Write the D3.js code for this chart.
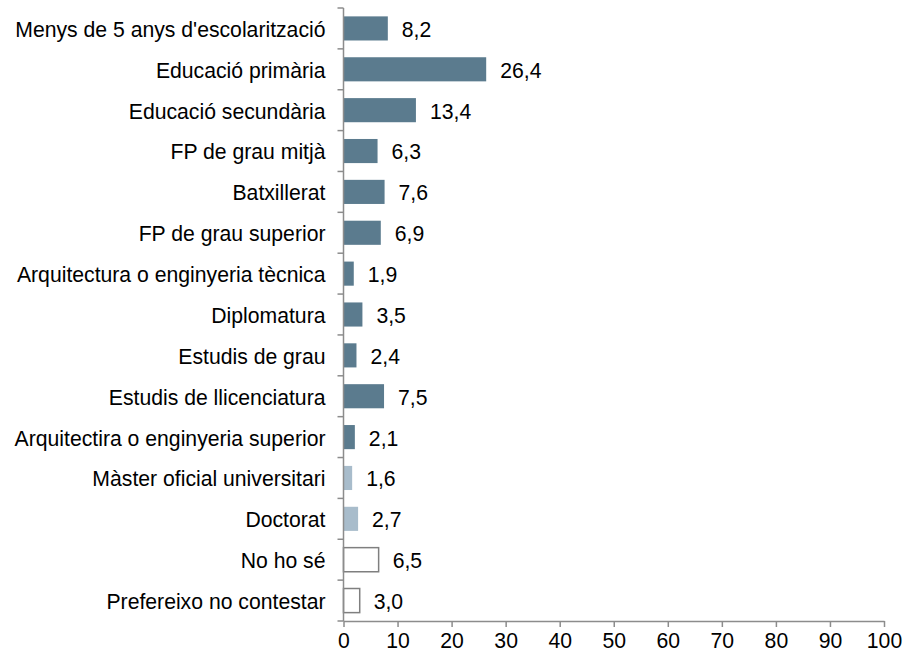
<!DOCTYPE html>
<html><head><meta charset="utf-8">
<script src="https://cdn.jsdelivr.net/npm/d3@7"></script>
<style>body{margin:0;background:#fff}svg{display:block}text{font-family:"Liberation Sans",Arial,sans-serif}</style>
</head><body><svg id="c" width="905" height="657"></svg>
<script>
const categories = ["Menys de 5 anys d'escolarització","Educació primària","Educació secundària","FP de grau mitjà","Batxillerat","FP de grau superior","Arquitectura o enginyeria tècnica","Diplomatura","Estudis de grau","Estudis de llicenciatura","Arquitectira o enginyeria superior","Màster oficial universitari","Doctorat","No ho sé","Prefereixo no contestar"];
const values = [8.2,26.4,13.4,6.3,7.6,6.9,1.9,3.5,2.4,7.5,2.1,1.6,2.7,6.5,3.0];
const groups = ["a","a","a","a","a","a","a","a","a","a","a","b","b","c","c"];
const xTicks = [0,10,20,30,40,50,60,70,80,90,100];

const svg = d3.select("#c");
const m = {left:343.5, right:21, top:8, bottom:36};
const W = 905, H = 657;
const FS = 21.2;
const x = d3.scaleLinear().domain([0,100]).range([m.left, W-m.right]);
const y = d3.scaleBand().domain(categories).range([m.top, H-m.bottom]).paddingInner(0.41).paddingOuter(0.205);
const fill = {a:"#5b7b8e", b:"#a8bccb", c:"#ffffff"};
const stroke = {a:"none", b:"none", c:"#7f7f7f"};
const axisColor = "#8c8c8c";

// bars
svg.selectAll("rect.bar").data(values).join("rect")
  .attr("x", x(0))
  .attr("y", (d,i)=>y(categories[i]))
  .attr("width", d=>x(d)-x(0))
  .attr("height", y.bandwidth())
  .attr("fill", (d,i)=>fill[groups[i]])
  .attr("stroke", (d,i)=>stroke[groups[i]])
  .attr("stroke-width", 1.5);

// value labels
svg.selectAll("text.val").data(values).join("text")
  .attr("x", d=>x(d)+14)
  .attr("y", (d,i)=>y(categories[i])+y.bandwidth()/2+1)
  .attr("dy","0.35em")
  .attr("font-size", FS)
  .attr("fill", "#000")
  .text(d=>d.toFixed(1).replace(".", ","));

// y axis
const yLine = svg.append("g");
yLine.append("line").attr("x1",x(0)).attr("x2",x(0)).attr("y1",m.top).attr("y2",H-m.bottom)
  .attr("stroke",axisColor).attr("stroke-width",1.5);
const bounds = d3.range(categories.length+1).map(i=>m.top + i*(H-m.top-m.bottom)/categories.length);
yLine.selectAll("line.t").data(bounds).join("line")
  .attr("x1",x(0)-6).attr("x2",x(0)).attr("y1",d=>d).attr("y2",d=>d)
  .attr("stroke",axisColor).attr("stroke-width",1.5);
svg.selectAll("text.cat").data(categories).join("text")
  .attr("x", x(0)-18)
  .attr("y", d=>y(d)+y.bandwidth()/2+1)
  .attr("dy","0.35em")
  .attr("text-anchor","end")
  .attr("font-size",FS)
  .attr("fill","#000")
  .text(d=>d);

// x axis
const xa = svg.append("g").attr("transform",`translate(0,${H-m.bottom})`)
  .call(d3.axisBottom(x).tickValues(xTicks).tickSize(6).tickSizeOuter(0).tickFormat(d3.format("d")));
xa.select(".domain").attr("stroke",axisColor).attr("stroke-width",1.5);
xa.selectAll(".tick line").attr("stroke",axisColor).attr("stroke-width",1.5);
xa.selectAll(".tick text").attr("font-size",FS).attr("fill","#000").attr("font-family","'Liberation Sans',Arial,sans-serif").attr("y",10).attr("dy","0.82em");
</script></body></html>
